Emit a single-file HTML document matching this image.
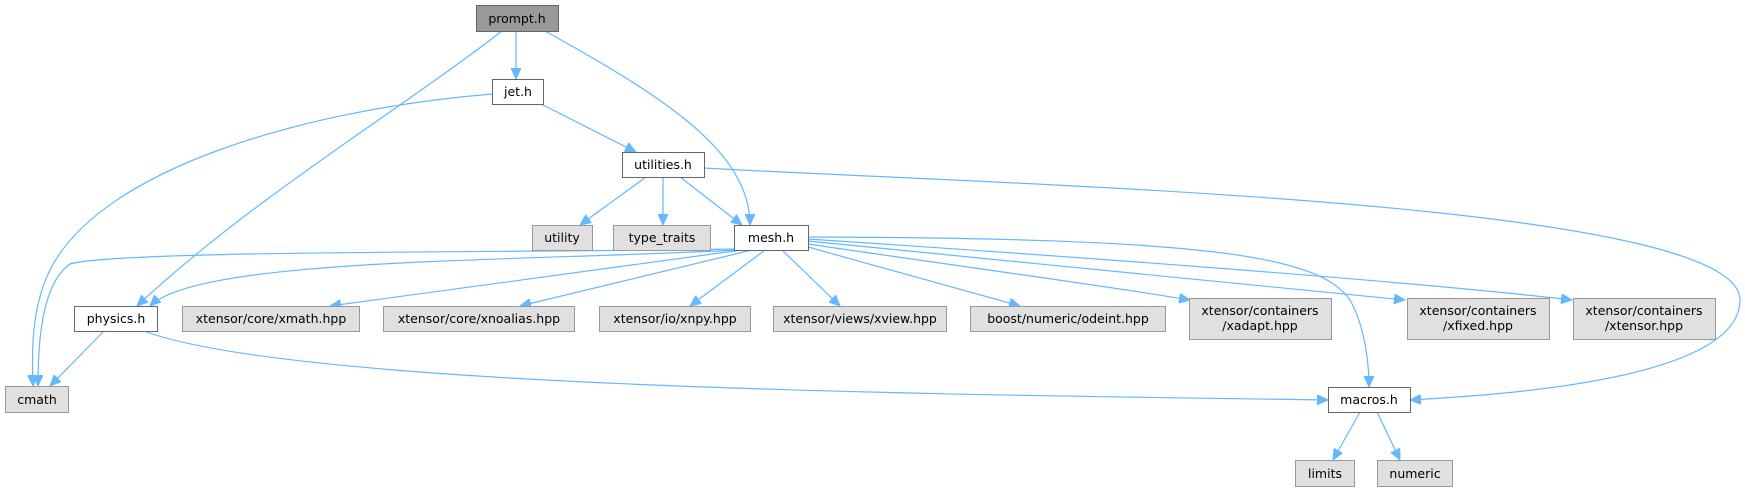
<!DOCTYPE html>
<html><head><meta charset="utf-8"><style>
html,body{margin:0;padding:0;background:#fff;}
svg{display:block;}
text{font-family:"DejaVu Sans","Liberation Sans",sans-serif;font-size:12.5px;fill:#000;}
</style></head><body>
<svg width="1745" height="491" viewBox="0 0 1745 491" xmlns="http://www.w3.org/2000/svg">
<defs>
<marker id="a" markerWidth="12" markerHeight="10" refX="11" refY="5" orient="auto" markerUnits="userSpaceOnUse">
<path d="M0,0 L11,5 L0,10 Z" fill="#63b8ff" stroke="#63b8ff"/>
</marker>
</defs>
<g fill="none" stroke="#63b8ff" stroke-width="1.2" marker-end="url(#a)">
<path d="M516,31 L516,79"/>
<path d="M502,31 C400,110 250,200 137,306"/>
<path d="M545,31 C660,95 750,150 750,225"/>
<path d="M492,94 C300,110 100,170 50,270 C30,310 32,360 33,386"/>
<path d="M541,104 L636,152"/>
<path d="M646,177 L580,225"/>
<path d="M663,177 L663,225"/>
<path d="M680,177 L742,225"/>
<path d="M704,168 C1000,185 1740,200 1740,300 C1740,380 1500,395 1410,400"/>
<path d="M738,250 C500,262 200,258 150,306"/>
<path d="M736,249 C500,253 120,250 70,264 C40,285 38,350 38,386"/>
<path d="M742,250 L330,306"/>
<path d="M752,250 L520,306"/>
<path d="M765,250 L690,306"/>
<path d="M782,250 L840,306"/>
<path d="M808,247 L1020,306"/>
<path d="M808,244 C950,265 1100,285 1190,300"/>
<path d="M808,241 C1000,260 1250,285 1405,300"/>
<path d="M808,239 C1050,255 1400,280 1572,300"/>
<path d="M808,237 C1200,238 1320,255 1350,300 C1364,325 1369,360 1369,387"/>
<path d="M104,331 L50,386"/>
<path d="M144,331 C300,390 1000,395 1328,400"/>
<path d="M1360,412 L1333,460"/>
<path d="M1377,412 L1400,460"/>
</g>
<g stroke-width="1">
<rect x="476.5" y="5.5" width="82" height="26" fill="#999" stroke="#666"/>
<rect x="492.5" y="79.5" width="51" height="25" fill="#fff" stroke="#666"/>
<rect x="622.5" y="152.5" width="82" height="25" fill="#fff" stroke="#666"/>
<rect x="532.5" y="225.5" width="60" height="25" fill="#e0e0e0" stroke="#999"/>
<rect x="613.5" y="225.5" width="97" height="25" fill="#e0e0e0" stroke="#999"/>
<rect x="734.5" y="225.5" width="74" height="25" fill="#fff" stroke="#666"/>
<rect x="74.5" y="306.5" width="83" height="25" fill="#fff" stroke="#666"/>
<rect x="182.5" y="306.5" width="177" height="25" fill="#e0e0e0" stroke="#999"/>
<rect x="383.5" y="306.5" width="191" height="25" fill="#e0e0e0" stroke="#999"/>
<rect x="599.5" y="306.5" width="151" height="25" fill="#e0e0e0" stroke="#999"/>
<rect x="773.5" y="306.5" width="173" height="25" fill="#e0e0e0" stroke="#999"/>
<rect x="970.5" y="306.5" width="195" height="25" fill="#e0e0e0" stroke="#999"/>
<rect x="1189.5" y="298.5" width="142" height="41" fill="#e0e0e0" stroke="#999"/>
<rect x="1407.5" y="298.5" width="142" height="41" fill="#e0e0e0" stroke="#999"/>
<rect x="1573.5" y="298.5" width="142" height="41" fill="#e0e0e0" stroke="#999"/>
<rect x="5.5" y="386.5" width="63" height="26" fill="#e0e0e0" stroke="#999"/>
<rect x="1328.5" y="387.5" width="82" height="25" fill="#fff" stroke="#666"/>
<rect x="1295.5" y="460.5" width="59" height="26" fill="#e0e0e0" stroke="#999"/>
<rect x="1377.5" y="460.5" width="75" height="26" fill="#e0e0e0" stroke="#999"/>
</g>
<g text-anchor="middle">
<text x="517" y="23">prompt.h</text>
<text x="518" y="96">jet.h</text>
<text x="663" y="169">utilities.h</text>
<text x="562" y="242">utility</text>
<text x="662" y="242">type_traits</text>
<text x="771" y="242">mesh.h</text>
<text x="116" y="323">physics.h</text>
<text x="271" y="323">xtensor/core/xmath.hpp</text>
<text x="479" y="323">xtensor/core/xnoalias.hpp</text>
<text x="675" y="323">xtensor/io/xnpy.hpp</text>
<text x="860" y="323">xtensor/views/xview.hpp</text>
<text x="1068" y="323">boost/numeric/odeint.hpp</text>
<text x="1260" y="315">xtensor/containers</text>
<text x="1260" y="330">/xadapt.hpp</text>
<text x="1478" y="315">xtensor/containers</text>
<text x="1478" y="330">/xfixed.hpp</text>
<text x="1644" y="315">xtensor/containers</text>
<text x="1644" y="330">/xtensor.hpp</text>
<text x="37" y="404">cmath</text>
<text x="1369" y="404">macros.h</text>
<text x="1325" y="478">limits</text>
<text x="1415" y="478">numeric</text>
</g>
</svg>
</body></html>
